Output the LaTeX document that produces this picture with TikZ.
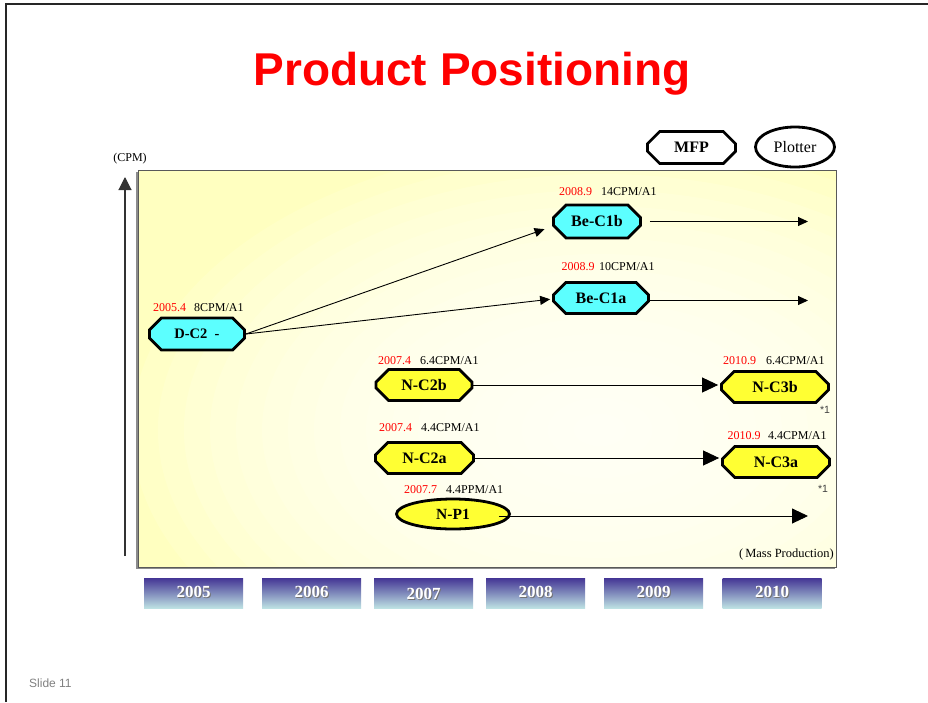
\documentclass[tikz,border=0pt]{standalone}
\usepackage{fontspec}
\setmainfont{Liberation Serif}
\newfontfamily\arialfont{Liberation Sans}
\usetikzlibrary{shapes.misc,shapes.geometric,arrows.meta}
\definecolor{titlered}{HTML}{FF0000}
\definecolor{panelY}{HTML}{FFFFC0}
\definecolor{nodecyan}{HTML}{5CFFFF}
\definecolor{nodeyellow}{HTML}{FFFF33}
\definecolor{yeartop}{HTML}{463896}
\definecolor{yearbot}{HTML}{BFE4E4}
\definecolor{lblred}{HTML}{FF0000}
\begin{document}
\begin{tikzpicture}[x=1pt,y=-1pt,
  octo/.style={chamfered rectangle, chamfered rectangle xsep=7pt, chamfered rectangle ysep=7pt,
     draw=black, line width=2.8pt, inner sep=0pt, font=\fontsize{16}{16}\selectfont\bfseries},
  oval/.style={ellipse, draw=black, line width=2.8pt, inner sep=0pt},
  cyanbox/.style={octo, fill=nodecyan},
  yelbox/.style={octo, fill=nodeyellow},
  datelbl/.style={anchor=west, inner sep=0pt, text=lblred, font=\fontsize{12}{12}\selectfont},
  speclbl/.style={anchor=west, inner sep=0pt, font=\fontsize{12}{12}\selectfont},
  notelbl/.style={inner sep=0pt, font=\arialfont\fontsize{10.5}{11}\selectfont, text=black!75},
  yearbox/.style={minimum width=99pt, minimum height=30pt, inner sep=0pt, top color=yeartop, bottom color=yearbot, draw=none},
  yeartxt/.style={inner sep=0pt, text=white, font=\fontsize{17}{17}\selectfont\bfseries},
  yearshadow/.style={inner sep=0pt, text=black!55, font=\fontsize{17}{17}\selectfont\bfseries},
  thinarrow/.style={-{Triangle[length=10pt,width=9pt]}, line width=0.9pt},
  bigarrow/.style={-{Triangle[length=16pt,width=15pt]}, line width=0.9pt},
]
\useasboundingbox (0,0) rectangle (928,702);
% slide frame
\draw[line width=2pt, black!85] (6,702) -- (6,4) -- (928,4);
% title
\node[anchor=base, inner sep=0pt, text=titlered, font=\arialfont\fontsize{46}{46}\selectfont\bfseries] (title) at (472,85) {Product Positioning};
% panel
\fill[black!45] (136,172) rectangle (834.5,568.5);
\begin{scope}
  \clip (138,170) rectangle (836,567);
  \fill[panelY] (138,170) rectangle (836,567);
  \foreach \r in {1,...,18}{
    \fill[white, opacity=0.12] (600,430) ellipse [x radius=26*\r, y radius=16*\r];
  }
\end{scope}
\draw[line width=0.9pt, black!65] (138,170) rectangle (836,567);
% axis
\coordinate (axbot) at (125,556);
\coordinate (axtop) at (125,177);
\draw[-{Triangle[length=13pt,width=13pt]}, line width=1.1pt, black!80] (axbot) -- (axtop);
\node[inner sep=0pt, font=\fontsize{12}{12}\selectfont] (cpm) at (130,159) {(CPM)};
% legend
\node[octo, fill=white, minimum width=88pt, minimum height=32pt] (mfp) at (691.5,147.5) {MFP};
\node[oval, fill=white, minimum width=79pt, minimum height=40pt, font=\fontsize{16}{16}\selectfont] (plotter) at (795,147) {Plotter};
% product nodes
\node[cyanbox, minimum width=87pt, minimum height=33pt] (bec1b) at (597,221.5) {Be-C1b};
\node[cyanbox, minimum width=95pt, minimum height=31pt] (bec1a) at (601,298) {Be-C1a};
\node[cyanbox, minimum width=95pt, minimum height=32pt, font=\fontsize{14.5}{14}\selectfont\bfseries] (dc2) at (197,334) {D-C2\enspace -};
\node[yelbox, minimum width=96pt, minimum height=31pt] (nc2b) at (424,385) {N-C2b};
\node[yelbox, minimum width=107pt, minimum height=31pt] (nc3b) at (775,387) {N-C3b};
\node[yelbox, minimum width=98pt, minimum height=31pt] (nc2a) at (424.5,458) {N-C2a};
\node[yelbox, minimum width=107pt, minimum height=31pt] (nc3a) at (776,462) {N-C3a};
\node[oval, fill=nodeyellow, minimum width=113pt, minimum height=30pt, font=\fontsize{15.5}{16}\selectfont\bfseries] (np1) at (453,514) {N-P1};
% labels
\node[datelbl] (l1d) at (153,308) {2005.4};
\node[speclbl] (l1s) at (194,308) {8CPM/A1};
\node[datelbl] (l2d) at (559,192) {2008.9};
\node[speclbl] (l2s) at (601,192) {14CPM/A1};
\node[datelbl] (l3d) at (561.5,267) {2008.9};
\node[speclbl] (l3s) at (599,267) {10CPM/A1};
\node[datelbl] (l4d) at (378,360.5) {2007.4};
\node[speclbl] (l4s) at (420,360.5) {6.4CPM/A1};
\node[datelbl] (l5d) at (723,360.5) {2010.9};
\node[speclbl] (l5s) at (766,360.5) {6.4CPM/A1};
\node[datelbl] (l6d) at (379,428) {2007.4};
\node[speclbl] (l6s) at (421,428) {4.4CPM/A1};
\node[datelbl] (l7d) at (727.5,435.5) {2010.9};
\node[speclbl] (l7s) at (768,435.5) {4.4CPM/A1};
\node[datelbl] (l8d) at (404,490) {2007.7};
\node[speclbl] (l8s) at (446,490) {4.4PPM/A1};
\node[notelbl] (n1) at (825,410) {*1};
\node[notelbl] (n2) at (823,488.5) {*1};
\node[anchor=east, inner sep=0pt, font=\fontsize{12.5}{13}\selectfont] (mass) at (834,554) {(\,Mass Production)};
% connectors
\coordinate (e1) at (808,221.5);
\coordinate (e2) at (808,300.5);
\coordinate (e3) at (808,516);
\draw[thinarrow, shorten >=8pt] (dc2.east) -- ([yshift=-5pt]bec1b.west);
\draw[thinarrow, shorten >=2pt] (dc2.east) -- ([yshift=-1pt]bec1a.west);
\draw[thinarrow, shorten <=8pt] (bec1b.east) -- (e1);
\draw[thinarrow] ([yshift=-2.5pt]bec1a.east) -- (e2);
\draw[bigarrow, shorten >=2pt] (nc2b.east) -- (nc2b.east -| nc3b.west);
\draw[bigarrow, shorten >=2pt] (nc2a.east) -- (nc2a.east -| nc3a.west);
\draw[bigarrow, shorten <=-12pt] ([yshift=-2pt]np1.east) -- (e3);
% year bar
\foreach \yr/\cx/\dy in {2005/193.5/0, 2006/311.5/0, 2007/423.5/2, 2008/535.5/0, 2009/653.5/0, 2010/772/0}{
  \node[yearbox] (box\yr) at (\cx,593.5) {};
  \node[yearshadow] (sh\yr) at (\cx+1,592+\dy+1) {\yr};
  \node[yeartxt] (yt\yr) at (\cx,592+\dy) {\yr};
}
% footer
\node[anchor=west, inner sep=0pt, text=black!50, font=\arialfont\fontsize{12}{12}\selectfont] (slide) at (29,683) {Slide 11};
\end{tikzpicture}
\end{document}
